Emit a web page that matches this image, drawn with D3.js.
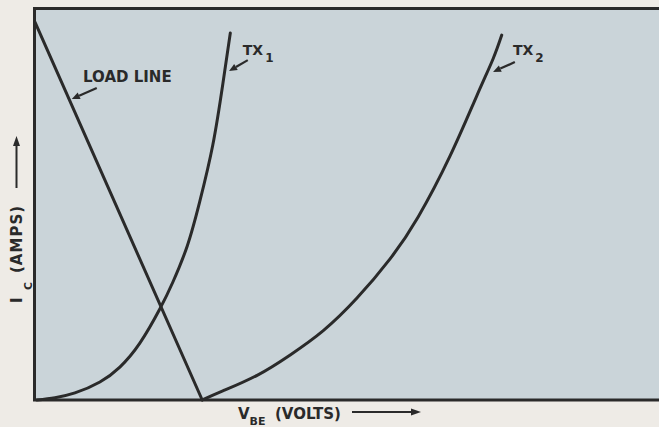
<!DOCTYPE html>
<html>
<head>
<meta charset="utf-8">
<script src="https://cdn.jsdelivr.net/npm/d3@7/dist/d3.min.js"></script>
<style>
  html, body { margin: 0; padding: 0; background: #eeebe6; }
  svg { display: block; }
  text { font-family: "DejaVu Sans", sans-serif; font-weight: bold; fill: #2a2a2a; }
</style>
</head>
<body>
<svg id="chart" width="659" height="427"></svg>
<script>
// Collector current vs base-emitter voltage (relative units, 0–100)
const loadVbe = [0, 26.8];
const loadIc  = [96.4, 0];

const tx1Vbe = [0.3, 3.2, 6.4, 10.4, 13.6, 16.8, 20.0, 22.1, 24.4, 26.4, 28.5, 30.1, 31.3];
const tx1Ic  = [0, 0.6, 1.8, 4.6, 8.4, 14.5, 23.2, 30.1, 39.3, 50.6, 65.1, 80.6, 93.6];

const tx2Vbe = [26.8, 30.1, 35.6, 40.9, 46.2, 51.6, 56.9, 61.4, 66.5, 70.8, 73.4, 74.8];
const tx2Ic  = [0, 2.3, 6.3, 11.5, 17.7, 26.0, 36.0, 46.7, 62.2, 77.6, 87.0, 93.1];

const curveNames = ["LOAD LINE", "TX", "TX"];
const curveSubs  = ["", "1", "2"];

const ink = "#2a2a2a";
const svg = d3.select("#chart");

const plot = { left: 34.5, top: 8.5, right: 680, bottom: 400 };
const x = d3.scaleLinear().domain([0, 100]).range([35, 659]);
const y = d3.scaleLinear().domain([0, 100]).range([400, 8]);

// plot panel
svg.append("rect")
  .attr("x", plot.left).attr("y", plot.top)
  .attr("width", plot.right - plot.left).attr("height", plot.bottom - plot.top)
  .attr("fill", "#cad4d9")
  .attr("stroke", ink).attr("stroke-width", 3);

const line = d3.line().x(d => x(d[0])).y(d => y(d[1]));
const smooth = d3.line().x(d => x(d[0])).y(d => y(d[1])).curve(d3.curveNatural);

const series = [
  { pts: d3.zip(loadVbe, loadIc), gen: line },
  { pts: d3.zip(tx1Vbe, tx1Ic), gen: smooth },
  { pts: d3.zip(tx2Vbe, tx2Ic), gen: smooth }
];

svg.append("g").selectAll("path").data(series).join("path")
  .attr("d", d => d.gen(d.pts))
  .attr("fill", "none")
  .attr("stroke", ink)
  .attr("stroke-width", 3)
  .attr("stroke-linecap", "round");

// arrow helper: shaft from tail to tip, solid head at tip
function arrow(g, x1, y1, x2, y2, len, half, w) {
  const a = Math.atan2(y2 - y1, x2 - x1);
  const bx = x2 - len * Math.cos(a), by = y2 - len * Math.sin(a);
  g.append("line").attr("x1", x1).attr("y1", y1).attr("x2", bx).attr("y2", by)
    .attr("stroke", ink).attr("stroke-width", w);
  const px = -Math.sin(a) * half, py = Math.cos(a) * half;
  g.append("path")
    .attr("d", `M${x2},${y2}L${bx + px},${by + py}L${bx - px},${by - py}Z`)
    .attr("fill", ink);
}

// curve labels with leader arrows (positions in data units)
const labelPos = [
  { tx: 7.7, ty: 81.1, size: 15, tail: [9.9, 79.6], tip: [5.9, 76.8] },
  { tx: 33.3, ty: 88.0, size: 14, tail: [34.1, 86.7], tip: [31.1, 83.9] },
  { tx: 76.6, ty: 88.0, size: 14, tail: [76.9, 86.2], tip: [73.4, 83.7] }
];

const ann = svg.append("g");
labelPos.forEach((p, i) => {
  const t = ann.append("text")
    .attr("x", x(p.tx)).attr("y", y(p.ty))
    .attr("font-size", p.size);
  t.append("tspan").text(curveNames[i]);
  if (curveSubs[i]) {
    t.append("tspan").attr("dx", 2).attr("dy", 7).attr("font-size", 12).text(curveSubs[i]);
  }
  arrow(ann, x(p.tail[0]), y(p.tail[1]), x(p.tip[0]), y(p.tip[1]), 8, 3.5, 2.2);
});

// x-axis title
const xt = svg.append("g");
const xLab = xt.append("text").attr("x", 238).attr("y", 419).attr("font-size", 15);
xLab.append("tspan").text("V");
xLab.append("tspan").attr("dy", 6).attr("font-size", 11).text("BE");
xLab.append("tspan").attr("x", 275).attr("dy", -6).text("(VOLTS)");
arrow(xt, 352, 412, 421, 412, 10, 3.5, 2);

// y-axis title (rotated)
const yt = svg.append("g").attr("transform", "translate(22,303) rotate(-90)");
yt.append("text").attr("x", 0).attr("y", 0).attr("font-size", 15)
  .attr("font-family", "DejaVu Sans Mono").text("I");
yt.append("text").attr("x", 13).attr("y", 10).attr("font-size", 11).text("C");
yt.append("text").attr("x", 30).attr("y", 0).attr("font-size", 15)
  .attr("letter-spacing", 1).text("(AMPS)");
arrow(yt, 115, -5.5, 167, -5.5, 10, 3.5, 2);
</script>
</body>
</html>
